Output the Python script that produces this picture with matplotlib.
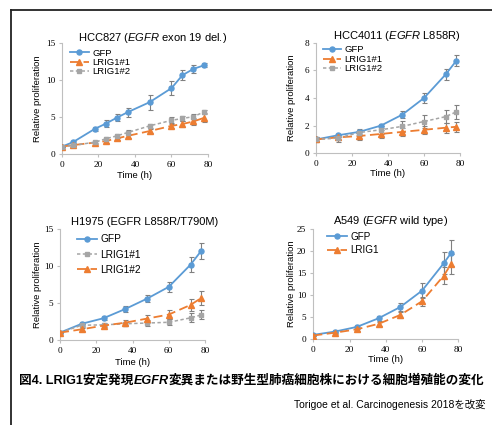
import matplotlib
matplotlib.use("Agg")
import matplotlib.pyplot as plt
from matplotlib.lines import Line2D

plt.rcParams['font.family'] = ['Liberation Sans', 'Noto Sans CJK JP', 'DejaVu Sans']
plt.rcParams['mathtext.fontset'] = 'custom'
plt.rcParams['mathtext.rm'] = 'Liberation Sans'
plt.rcParams['mathtext.it'] = 'Liberation Sans:italic'

# ---------------- data ----------------
hcc827_t = [0, 6, 18, 24, 30, 36, 48, 60, 66, 72, 78]
hcc827_gfp = [1.0, 1.6, 3.4, 4.1, 4.9, 5.65, 7.0, 8.9, 10.65, 11.5, 12.0]
hcc827_gfp_err = [0.1, 0.15, 0.3, 0.45, 0.5, 0.6, 1.0, 0.9, 0.7, 0.55, 0.3]
hcc827_l1 = [1.0, 1.2, 1.55, 1.75, 2.1, 2.45, 3.1, 3.8, 4.05, 4.4, 4.9]
hcc827_l1_err = [0.1, 0.1, 0.15, 0.2, 0.25, 0.3, 0.3, 0.3, 0.4, 0.5, 0.6]
hcc827_l2 = [1.0, 1.15, 1.6, 2.05, 2.45, 2.9, 3.8, 4.55, 4.8, 5.05, 5.7]
hcc827_l2_err = [0.1, 0.1, 0.15, 0.2, 0.25, 0.3, 0.3, 0.4, 0.35, 0.3, 0.3]

hcc4011_t = [0, 12, 24, 36, 48, 60, 72, 78]
hcc4011_gfp = [1.0, 1.3, 1.55, 2.0, 2.8, 4.0, 5.7, 6.7]
hcc4011_gfp_err = [0.1, 0.1, 0.15, 0.15, 0.25, 0.35, 0.4, 0.4]
hcc4011_l1 = [1.0, 1.15, 1.25, 1.4, 1.55, 1.7, 1.85, 1.92]
hcc4011_l1_err = [0.15, 0.2, 0.3, 0.3, 0.3, 0.3, 0.35, 0.35]
hcc4011_l2 = [1.0, 1.1, 1.5, 1.7, 1.95, 2.3, 2.65, 3.0]
hcc4011_l2_err = [0.15, 0.25, 0.25, 0.3, 0.4, 0.45, 0.45, 0.5]

h1975_t = [0, 12, 24, 36, 48, 60, 72, 78]
h1975_gfp = [1.0, 2.2, 2.95, 4.2, 5.6, 7.2, 10.2, 12.1]
h1975_gfp_err = [0.1, 0.25, 0.3, 0.4, 0.5, 0.7, 1.0, 1.1]
h1975_l1 = [1.0, 2.0, 2.05, 2.2, 2.3, 2.4, 3.0, 3.4]
h1975_l1_err = [0.1, 0.2, 0.2, 0.3, 0.35, 0.4, 0.6, 0.6]
h1975_l2 = [1.0, 1.45, 1.95, 2.35, 2.9, 3.45, 4.75, 5.7]
h1975_l2_err = [0.1, 0.2, 0.25, 0.35, 0.55, 0.6, 0.8, 1.0]

a549_t = [0, 12, 24, 36, 48, 60, 72, 76]
a549_gfp = [1.0, 1.75, 2.8, 4.75, 7.3, 11.0, 17.2, 19.5]
a549_gfp_err = [0.2, 0.3, 0.4, 0.6, 1.0, 1.7, 2.5, 3.0]
a549_l1 = [0.85, 1.5, 2.25, 3.5, 5.5, 8.6, 14.4, 17.0]
a549_l1_err = [0.2, 0.25, 0.35, 0.5, 0.7, 1.0, 1.9, 2.2]

titles = [r"HCC827 ($\mathit{EGFR}$ exon 19 del.)",
          r"HCC4011 ($\mathit{EGFR}$ L858R)",
          "H1975 (EGFR L858R/T790M)",
          r"A549 ($\mathit{EGFR}$ wild type)"]
x_ticks = [0, 20, 40, 60, 80]
y_ticks = [[0, 5, 10, 15], [0, 2, 4, 6, 8], [0, 5, 10, 15], [0, 5, 10, 15, 20, 25]]
caption_a = "図4. LRIG1安定発現"
caption_b = "EGFR"
caption_c = "変異または野生型肺癌細胞株における細胞増殖能の変化"
credit = "Torigoe et al. Carcinogenesis 2018を改変"

# ---------------- style ----------------
BLUE = '#5B9BD5'
ORANGE = '#ED7D31'
GRAY = '#A5A5A5'
ERR = '#808080'
SPINE = '#BFBFBF'
W, H = 492, 425

sty_gfp = dict(color=BLUE, marker='o', ms=3.6, lw=1.3, ls='-')
sty_or = dict(color=ORANGE, marker='^', ms=4.0, lw=1.3, dashes=(5, 2.5))
sty_gr = dict(color=GRAY, marker='s', ms=3.4, lw=1.1, dashes=(2.2, 1.6))

fig = plt.figure(figsize=(W / 100, H / 100), dpi=100)


def px_axes(x0, x1, y_top, y_bot):
    return fig.add_axes([x0 / W, 1 - y_bot / H, (x1 - x0) / W, (y_bot - y_top) / H])


def series(ax, t, y, e, sty, label):
    ax.errorbar(t, y, yerr=e, fmt='none', ecolor=ERR, elinewidth=0.8,
                capsize=1.8, capthick=0.8, zorder=3)
    ax.plot(t, y, label=label, zorder=4, **sty)


def style_axes(ax, yt, ymax, ylab_x_px, xlab_y_px, x0, y_top, y_bot):
    ax.set_xlim(0, 80)
    ax.set_ylim(0, ymax)
    ax.set_xticks(x_ticks)
    ax.set_yticks(yt)
    for s in ['top', 'right']:
        ax.spines[s].set_visible(False)
    for s in ['left', 'bottom']:
        ax.spines[s].set_color(SPINE)
        ax.spines[s].set_linewidth(0.8)
    ax.tick_params(axis='both', length=2.5, width=0.8, color=SPINE, pad=2.5,
                   labelsize=6.7)
    for lab in ax.get_xticklabels() + ax.get_yticklabels():
        lab.set_fontfamily('Liberation Serif')
    ax.set_ylabel('Relative proliferation', fontsize=6.8)
    ax.set_xlabel('Time (h)', fontsize=6.8)
    hpx = y_bot - y_top
    ax.yaxis.set_label_coords((ylab_x_px - x0) / ((ax.get_position().width) * W), 0.5)
    ax.xaxis.set_label_coords(0.5, -(xlab_y_px - y_bot) / hpx)
    ax.yaxis.label.set_va('center')
    ax.xaxis.label.set_va('center')


def legend(ax, left_px, top_px, spacing, size=6.8):
    ax.legend(loc='upper left', bbox_to_anchor=(left_px / W, 1 - top_px / H),
              bbox_transform=fig.transFigure, frameon=False, fontsize=size,
              borderpad=0, borderaxespad=0, handlelength=2.0, handletextpad=0.35,
              labelspacing=spacing)


# Panel 1
ax1 = px_axes(62, 208, 43, 154)
series(ax1, hcc827_t, hcc827_gfp, hcc827_gfp_err, sty_gfp, 'GFP')
series(ax1, hcc827_t, hcc827_l1, hcc827_l1_err, sty_or, 'LRIG1#1')
series(ax1, hcc827_t, hcc827_l2, hcc827_l2_err, sty_gr, 'LRIG1#2')
style_axes(ax1, y_ticks[0], 15, 38, 176, 62, 43, 154)
legend(ax1, 70, 48.5, 0.05)

# Panel 2
ax2 = px_axes(316, 460, 42.7, 153.3)
series(ax2, hcc4011_t, hcc4011_gfp, hcc4011_gfp_err, sty_gfp, 'GFP')
series(ax2, hcc4011_t, hcc4011_l1, hcc4011_l1_err, sty_or, 'LRIG1#1')
series(ax2, hcc4011_t, hcc4011_l2, hcc4011_l2_err, sty_gr, 'LRIG1#2')
style_axes(ax2, y_ticks[1], 8, 291.7, 174, 316, 42.7, 153.3)
legend(ax2, 322.5, 45.5, 0.05)

# Panel 3
ax3 = px_axes(60, 205, 229.3, 340)
series(ax3, h1975_t, h1975_gfp, h1975_gfp_err, sty_gfp, 'GFP')
series(ax3, h1975_t, h1975_l1, h1975_l1_err, sty_gr, 'LRIG1#1')
series(ax3, h1975_t, h1975_l2, h1975_l2_err, sty_or, 'LRIG1#2')
style_axes(ax3, y_ticks[2], 15, 37.3, 362.7, 60, 229.3, 340)
legend(ax3, 76.5, 234.5, 0.5, size=7.3)

# Panel 4
ax4 = px_axes(313.3, 458.3, 228.7, 339.3)
series(ax4, a549_t, a549_gfp, a549_gfp_err, sty_gfp, 'GFP')
series(ax4, a549_t, a549_l1, a549_l1_err, sty_or, 'LRIG1')
style_axes(ax4, y_ticks[3], 25, 291.7, 360, 313.3, 228.7, 339.3)
legend(ax4, 327, 231.5, 0.35, size=7.1)

# Titles
for (cx, cy), t in zip([(153, 38), (397, 36), (145, 222), (391, 221)], titles):
    fig.text(cx / W, 1 - cy / H, t, ha='center', va='center', fontsize=8,
             fontfamily='Liberation Sans')

# Frame lines (top and left)
fig.add_artist(Line2D([11 / W, 1], [1 - 10 / H, 1 - 10 / H], transform=fig.transFigure,
                      color='#222222', lw=1.3))
fig.add_artist(Line2D([11 / W, 11 / W], [0, 1 - 10 / H], transform=fig.transFigure,
                      color='#222222', lw=1.3))

# Caption made of pieces (EGFR in bold italic)
renderer = fig.canvas.get_renderer()
cy = 1 - 380.5 / H
x = 19 / W
fam = ['Liberation Sans', 'Noto Sans CJK JP']
t1 = fig.text(x, cy, caption_a, fontsize=9.1, fontweight='bold', fontfamily=fam,
              va='center', ha='left')
x = t1.get_window_extent(renderer).x1 / W
t2 = fig.text(x, cy, caption_b, fontsize=9.1, fontweight='bold', fontstyle='italic',
              fontfamily='Liberation Sans', va='center', ha='left')
x = t2.get_window_extent(renderer).x1 / W
t3 = fig.text(x, cy, caption_c, fontsize=9.1, fontweight='bold', fontfamily=fam,
              va='center', ha='left')

fig.text(485.5 / W, 1 - 404 / H, credit, fontsize=7.5, fontfamily=fam,
         ha='right', va='center')

fig.savefig('out.png', dpi=100)
